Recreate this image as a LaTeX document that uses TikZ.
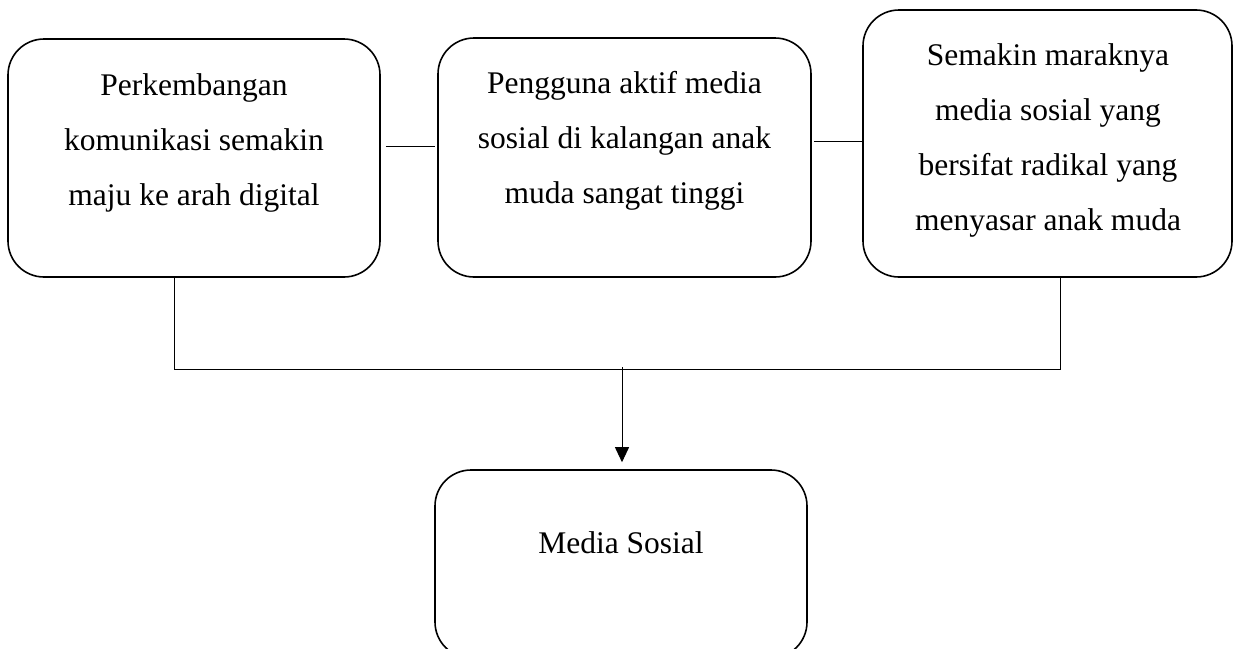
\documentclass[tikz,border=0pt]{standalone}
\usepackage{fontspec}
\setmainfont{Liberation Serif}
\usetikzlibrary{arrows.meta}
\begin{document}
\begin{tikzpicture}[x=1pt,y=-1pt,
  box/.style={draw, line width=1.6pt, rounded corners=36pt, inner sep=0pt},
  boxtext/.style={anchor=north, inner sep=0pt, align=center,
    font=\fontsize{31.5}{55}\selectfont},
  link/.style={draw, line width=0.9pt}]
\useasboundingbox (0,0) rectangle (1234,648);

% the four rounded boxes
\node[box, minimum width=372pt, minimum height=238pt] (b1) at (194,158) {};
\node[box, minimum width=373pt, minimum height=239pt] (b2) at (624.5,157.5) {};
\node[box, minimum width=369pt, minimum height=267pt] (b3) at (1047.5,143.5) {};
\node[box, minimum width=372pt, minimum height=188pt] (b4) at (621,564) {};

% texts in the boxes
\node[boxtext] (t1) at (194,73) {Perkembangan\\komunikasi semakin\\maju ke arah digital};
\node[boxtext] (t2) at (624.5,71) {Pengguna aktif media\\sosial di kalangan anak\\muda sangat tinggi};
\node[boxtext] (t3) at (1048,43) {Semakin maraknya\\media sosial yang\\bersifat radikal yang\\menyasar anak muda};
\node[boxtext] (t4) at (621,531) {Media Sosial};

% links between the upper boxes
\coordinate (l1) at ([shift={(5,-12)}]b1.east);
\coordinate (l2) at ([shift={(2,-16.5)}]b2.east);
\draw[link] (l1) -- ([xshift=-2pt]l1 -| b2.west);
\draw[link] (l2) -- (l2 -| b3.west);

% collecting line and arrow to the bottom box
\coordinate (j) at (622,369);
\draw[link] ([xshift=-20pt]b1.south) -- ([xshift=-20pt]b1.south |- j)
  -- ([xshift=12.5pt]b3.south |- j) -- ([xshift=12.5pt]b3.south);
\draw[link, -{Triangle[length=15pt,width=14pt]}, shorten >=7pt]
  ([yshift=2pt]j) -- (b4.north -| j);
\end{tikzpicture}
\end{document}
